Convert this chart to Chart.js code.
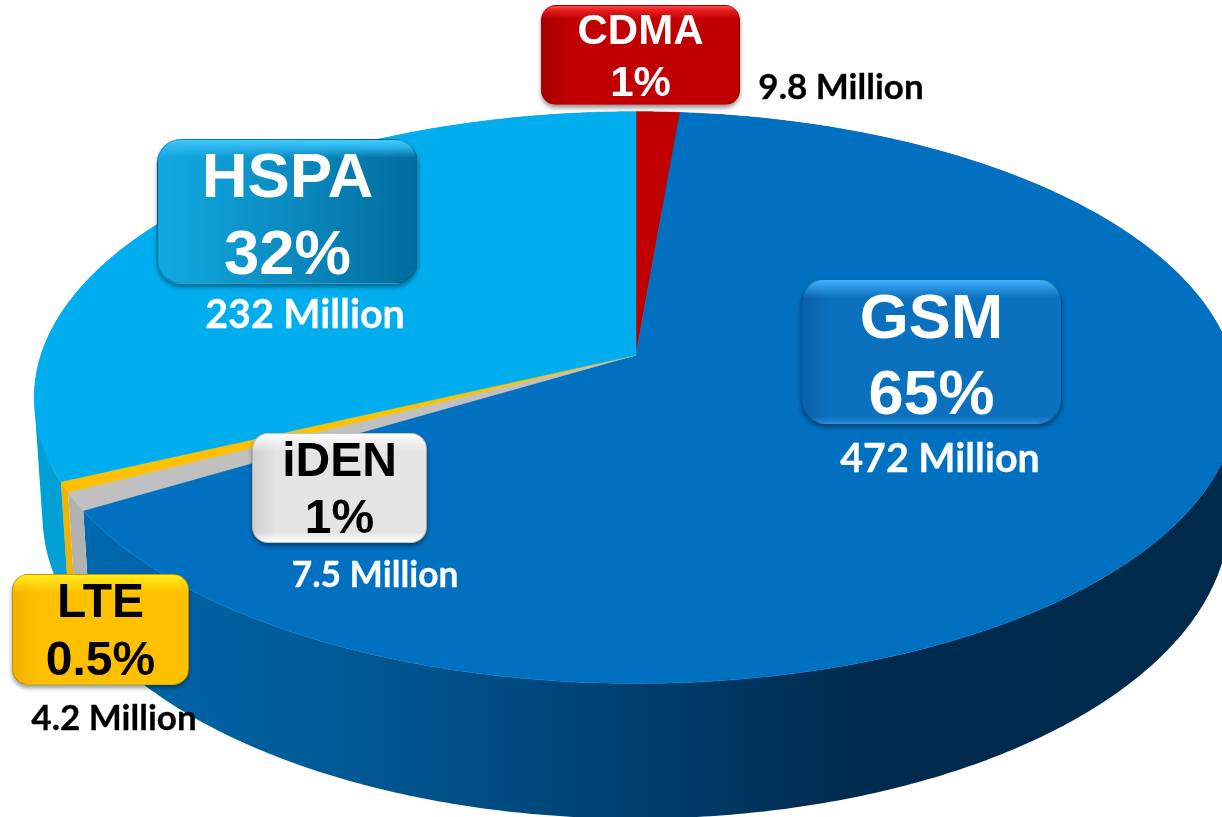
<!DOCTYPE html>
<html>
<head>
<meta charset="utf-8">
<title>Subscriptions by technology</title>
<script src="https://cdn.jsdelivr.net/npm/chart.js@4"></script>
<style>
html, body { margin: 0; padding: 0; background: #fff; }
#wrap { position: relative; width: 1222px; height: 817px; overflow: hidden; }
canvas { position: absolute; left: 0; top: 0; }
.box { position: absolute; box-sizing: border-box; box-shadow: 0 3px 4px rgba(0,0,0,.4); border: 1px solid rgba(0,0,0,.22); }
.txt { position: absolute; white-space: nowrap; text-align: center; transform: translateX(-50%); }
.head { font-family: "Liberation Sans", Arial, sans-serif; font-weight: bold; }
.sub { font-family: Lato, "Open Sans", sans-serif; font-weight: bold; -webkit-text-stroke: 0.3px currentColor; }
</style>
</head>
<body>
<div id="wrap"><canvas id="pie" width="1222" height="817"></canvas></div>
<script>
// 資料
const technologies = ["CDMA", "GSM", "iDEN", "LTE", "HSPA"];
const subscribers = [9.8, 472, 7.5, 4.2, 232];
const shareLabels = ["1%", "65%", "1%", "0.5%", "32%"];
const millionLabels = ["9.8 Million", "472 Million", "7.5 Million", "4.2 Million", "232 Million"];

const topColors = ["#C00000", "#0070C0", "#C0C0C0", "#FFC000", "#00ADEE"];
const wallColors = ["#900000", null, "#B2B2B2", "#F0B400", "#00A0D4"];

// 透視參數: 上蓋與底面
const topDisc = { cx: 636, cy: 355, rx: 595, ry: 279.5, k: 0.149 };
const bottomDisc = { cx: 636, cy: 470, rx: 587, ry: 297, k: 0.148 };

function project(disc, angle) {
    const X = Math.cos(angle), Y = Math.sin(angle);
    const f = 1 / (1 - disc.k * Y);
    return [disc.cx + disc.rx * X * f, disc.cy + disc.ry * Y * f];
}

function rimPoints(disc, a1, a2) {
    const n = Math.max(2, Math.ceil(Math.abs(a2 - a1) / 0.01));
    const pts = [];
    for (let i = 0; i <= n; i++) pts.push(project(disc, a1 + (a2 - a1) * i / n));
    return pts;
}

function tracePoly(ctx, pts) {
    pts.forEach((p, i) => i ? ctx.lineTo(p[0], p[1]) : ctx.moveTo(p[0], p[1]));
    ctx.closePath();
}

function signedArea(pts) {
    let sum = 0;
    pts.forEach((p, i) => {
        const q = pts[(i + 1) % pts.length];
        sum += p[0] * q[1] - q[0] * p[1];
    });
    return sum;
}

// 側面: 上下兩圈之間一小段一小段填滿，方向要一致不然重疊處會被抵消
function fillWall(ctx, a1, a2, color) {
    const upper = rimPoints(topDisc, a1, a2);
    const lower = rimPoints(bottomDisc, a1, a2);
    ctx.beginPath();
    for (let i = 0; i < upper.length - 1; i++) {
        const quad = [upper[i], upper[i + 1], lower[i + 1], lower[i]];
        if (signedArea(quad) < 0) quad.reverse();
        tracePoly(ctx, quad);
    }
    ctx.fillStyle = color;
    ctx.fill();
}

// 把 Chart.js 算好的扇形角度畫成立體圓餅
const perspectivePie = {
    id: "perspectivePie",
    beforeDatasetDraw(chart, args) {
        const ctx = chart.ctx;
        const arcs = args.meta.data;

        const side = ctx.createLinearGradient(90, 0, 1222, 0);
        side.addColorStop(0, "#0068AE");
        side.addColorStop(0.27, "#00558F");
        side.addColorStop(0.48, "#003F70");
        side.addColorStop(0.68, "#002B4E");
        side.addColorStop(1, "#002A4C");

        ctx.save();
        arcs.forEach((arc, i) => {
            fillWall(ctx, arc.startAngle, arc.endAngle, wallColors[i] || side);
        });
        arcs.forEach((arc, i) => {
            ctx.beginPath();
            tracePoly(ctx, [[topDisc.cx, topDisc.cy]].concat(rimPoints(topDisc, arc.startAngle, arc.endAngle)));
            ctx.fillStyle = topColors[i];
            ctx.fill();
            // 蓋掉邊緣的白色細縫
            ctx.strokeStyle = topColors[i];
            ctx.lineWidth = 0.6;
            ctx.lineJoin = "round";
            ctx.stroke();
        });
        ctx.restore();
        return false;
    }
};

new Chart(document.getElementById("pie"), {
    type: "pie",
    data: {
        labels: technologies,
        datasets: [{ data: subscribers, backgroundColor: topColors, borderWidth: 0 }]
    },
    options: {
        responsive: false,
        animation: false,
        plugins: { legend: { display: false }, tooltip: { enabled: false } }
    },
    plugins: [perspectivePie]
});

// 標籤方塊
const boxStyles = {
    CDMA: { x: 541, y: 5, w: 199, h: 100, r: 15, size: 42, base: [45, 97], color: "#fff",
        bg: "linear-gradient(180deg,#FF4A4A 0,#E82020 4px,rgba(200,0,0,0) 13px),linear-gradient(90deg,#A80000 0,rgba(0,0,0,0) 14%),#C00000",
        mx: 841, mb: 99, ms: 35, mc: "#000" },
    GSM: { x: 801, y: 279, w: 261, h: 145, r: 24, size: 63, base: [338, 414], color: "#fff",
        bg: "linear-gradient(180deg,#40B4FF 0,#2C96E4 7px,rgba(10,112,190,0) 18px),linear-gradient(0deg,#2288D8 0,rgba(10,112,190,0) 6px),linear-gradient(90deg,#0A60A8 0,rgba(0,0,0,0) 10%),#0B70BE",
        mx: 940, mb: 472, ms: 39.4, mc: "#fff" },
    iDEN: { x: 252, y: 433, w: 175, h: 110, r: 16, size: 48, base: [477, 534], color: "#000",
        bg: "linear-gradient(180deg,#fff 0,#f4f4f4 5px,rgba(228,228,228,0) 18px),linear-gradient(0deg,#fff 0,rgba(228,228,228,0) 10px),linear-gradient(90deg,#D0D0D0 0,rgba(0,0,0,0) 14%),#E4E4E4",
        mx: 375, mb: 587, ms: 35.3, mc: "#fff" },
    LTE: { x: 12, y: 574, w: 177, h: 111, r: 16, size: 48, base: [618, 676], color: "#000",
        bg: "linear-gradient(180deg,#FFF020 0,#FFE010 5px,rgba(255,192,0,0) 18px),linear-gradient(90deg,#F0B000 0,rgba(0,0,0,0) 14%),#FFC000",
        mx: 114, mb: 730, ms: 35, mc: "#000" },
    HSPA: { x: 157, y: 139, w: 261, h: 145, r: 24, size: 63.5, base: [198, 275], color: "#fff",
        bg: "linear-gradient(180deg,#40CCFF 0,#30B8F0 6px,rgba(0,150,210,0) 18px),linear-gradient(90deg,#10AAE0 0,#0C8EC4 45%,#006C9C 100%)",
        mx: 305, mb: 328, ms: 39.4, mc: "#fff" }
};

const wrap = document.getElementById("wrap");

function addText(cls, text, cx, baseline, size, color, ascent) {
    const el = document.createElement("div");
    el.className = "txt " + cls;
    el.textContent = text;
    el.style.left = cx + "px";
    el.style.top = (baseline - ascent * size) + "px";
    el.style.fontSize = size + "px";
    el.style.lineHeight = size + "px";
    el.style.color = color;
    wrap.appendChild(el);
}

technologies.forEach((name, i) => {
    const s = boxStyles[name];
    const box = document.createElement("div");
    box.className = "box";
    box.style.cssText = `left:${s.x}px;top:${s.y}px;width:${s.w}px;height:${s.h}px;border-radius:${s.r}px;background:${s.bg}`;
    wrap.appendChild(box);
    const mid = s.x + s.w / 2;
    addText("head", name, mid, s.base[0], s.size, s.color, 0.8465);
    addText("head", shareLabels[i], mid, s.base[1], s.size, s.color, 0.8465);
    addText("sub", millionLabels[i], s.mx, s.mb, s.ms, s.mc, 0.887);
});
</script>
</body>
</html>
